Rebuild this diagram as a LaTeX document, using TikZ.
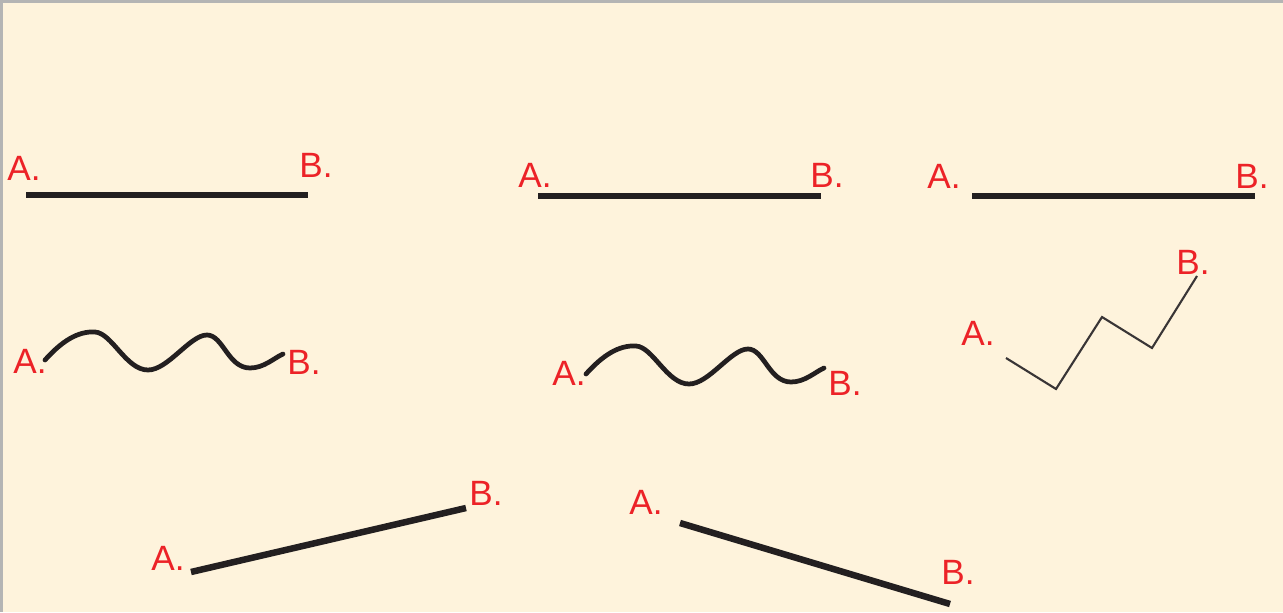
\documentclass[tikz,border=0pt]{standalone}
\usepackage{fontspec}
\setmainfont{Liberation Sans}
\usepackage{tikz}
\usetikzlibrary{positioning, calc}
\definecolor{paper}{HTML}{FEF3DC}
\definecolor{frame}{HTML}{B4B4B4}
\definecolor{labelred}{HTML}{EC2227}
\definecolor{ink}{HTML}{231F20}
\tikzset{
  % Endpoint labels
  endlabel/.style={text=labelred, inner sep=0pt, font=\fontsize{20}{22}\selectfont},
  % Line types
  straightseg/.style={draw=ink, line width=3.7pt},
  waveseg/.style={draw=ink, line width=2.7pt, line cap=round},
  zigzagseg/.style={draw=ink!90, line width=1.2pt},
}

\begin{document}
\begin{tikzpicture}[x=0.02cm, y=-0.02cm]

  % Background and frame
  \fill[paper] (0,0) rectangle (1283,612);
  \useasboundingbox (0,0) rectangle (1283,612);
  \fill[frame] (0,0) rectangle (3,612);
  \fill[frame] (0,0) rectangle (1283,3);

  % Top row: straight lines
  \coordinate (a1) at (26,195);
  \coordinate (b1) at (308,195);
  \draw[straightseg] (a1) -- (b1);
  \node[endlabel] (la1) at (24,168) {A.};
  \node[endlabel] (lb1) at (316,165) {B.};

  \coordinate (a2) at (538,196);
  \coordinate (b2) at (821,196);
  \draw[straightseg] (a2) -- (b2);
  \node[endlabel] (la2) at (535,175) {A.};
  \node[endlabel] (lb2) at (827,175) {B.};

  \coordinate (a3) at (972,196);
  \coordinate (b3) at (1255,196);
  \draw[straightseg] (a3) -- (b3);
  \node[endlabel] (la3) at (944,176) {A.};
  \node[endlabel] (lb3) at (1252,176) {B.};

  % Middle row: waves and zigzag
  \foreach \dx/\dy/\n in {0/0/4, 541/14/5} {
    \begin{scope}[shift={(\dx,\dy)}]
      \coordinate (a\n) at (45,360);
      \coordinate (b\n) at (283,354);
      \draw[waveseg] (a\n) .. controls (62,341) and (78,331) .. (95,332)
        .. controls (112,333) and (126,370) .. (148,370)
        .. controls (168,370) and (190,335) .. (207,335)
        .. controls (223,335) and (228,368) .. (250,368)
        .. controls (264,368) and (274,358) .. (b\n);
    \end{scope}
  }
  \node[endlabel] (la4) at (30,361) {A.};
  \node[endlabel] (lb4) at (304,362) {B.};
  \node[endlabel] (la5) at (569,373) {A.};
  \node[endlabel] (lb5) at (845,383) {B.};

  \coordinate (a6) at (1006,358);
  \coordinate (b6) at (1197,276);
  \draw[zigzagseg] (a6) -- (1056,389) -- (1102,317) -- (1152,348) -- (b6);
  \node[endlabel] (la6) at (978,333) {A.};
  \node[endlabel] (lb6) at (1193,262) {B.};

  % Bottom row: slanted lines
  \coordinate (a7) at (191,572);
  \coordinate (b7) at (466,508);
  \draw[straightseg] (a7) -- (b7);
  \node[endlabel] (la7) at (168,558) {A.};
  \node[endlabel] (lb7) at (486,493) {B.};

  \coordinate (a8) at (680,523);
  \coordinate (b8) at (950,604);
  \draw[straightseg] (a8) -- (b8);
  \node[endlabel] (la8) at (646,502) {A.};
  \node[endlabel] (lb8) at (958,572) {B.};

\end{tikzpicture}
\end{document}
